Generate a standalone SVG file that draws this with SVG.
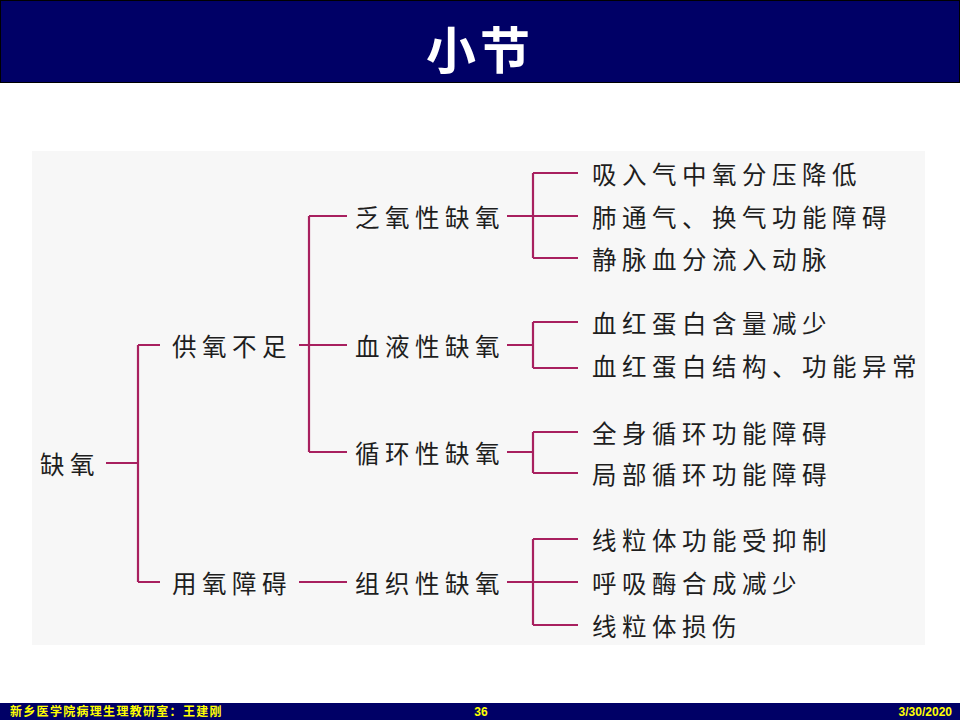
<svg xmlns="http://www.w3.org/2000/svg" width="960" height="720" viewBox="0 0 960 720">
<style>
.t{font-family:"Noto Sans CJK SC","Noto Sans",sans-serif;font-size:24.5px;letter-spacing:5.5px;fill:#1e1e1e;dominant-baseline:central}
.c{fill:none;stroke:#a8205f;stroke-width:2.2}
.f{font-family:"Liberation Sans","Noto Sans CJK SC",sans-serif;font-size:12px;font-weight:bold;fill:#ffff00}
</style>
<rect x="0" y="0" width="960" height="720" fill="#ffffff"/>
<g id="title">
<rect x="0.5" y="0.5" width="959" height="82" fill="#000066" stroke="#000000" stroke-width="1"/>
<text x="480" y="47" text-anchor="middle" font-family="Noto Sans CJK SC, sans-serif" font-size="50" font-weight="bold" letter-spacing="4" fill="#ffffff" dominant-baseline="central">小节</text>
</g>
<rect id="panel" x="32" y="151" width="893" height="494" fill="#f7f7f7"/>
<g id="connectors" class="c">
<path d="M106 463H138M138 345V582M138 345H160M138 582H160"/>
<path d="M299 345H347M309 216V452M309 216H347M309 452H347"/>
<path d="M299 582H347"/>
<path d="M507 216H533M533 173V258M533 173H578M533 216H578M533 258H578"/>
<path d="M507 345H533M533 322V368M533 322H578M533 368H578"/>
<path d="M507 452H533M533 432V473M533 432H578M533 473H578"/>
<path d="M507 582H533M533 539V625M533 539H578M533 582H578M533 625H578"/>
</g>
<g id="n-root"><text class="t" x="40" y="463">缺氧</text></g>
<g id="n-supply"><text class="t" x="172" y="345">供氧不足</text></g>
<g id="n-use"><text class="t" x="172" y="582">用氧障碍</text></g>
<g id="n-hypotonic"><text class="t" x="355" y="216">乏氧性缺氧</text></g>
<g id="n-hemic"><text class="t" x="355" y="345">血液性缺氧</text></g>
<g id="n-circulatory"><text class="t" x="355" y="452">循环性缺氧</text></g>
<g id="n-histogenous"><text class="t" x="355" y="582">组织性缺氧</text></g>
<g id="l1"><text class="t" x="592" y="173">吸入气中氧分压降低</text></g>
<g id="l2"><text class="t" x="592" y="216">肺通气、换气功能障碍</text></g>
<g id="l3"><text class="t" x="592" y="258">静脉血分流入动脉</text></g>
<g id="l4"><text class="t" x="592" y="322">血红蛋白含量减少</text></g>
<g id="l5"><text class="t" x="592" y="365">血红蛋白结构、功能异常</text></g>
<g id="l6"><text class="t" x="592" y="432">全身循环功能障碍</text></g>
<g id="l7"><text class="t" x="592" y="473">局部循环功能障碍</text></g>
<g id="l8"><text class="t" x="592" y="539">线粒体功能受抑制</text></g>
<g id="l9"><text class="t" x="592" y="582">呼吸酶合成减少</text></g>
<g id="l10"><text class="t" x="592" y="625">线粒体损伤</text></g>
<g id="footer">
<rect x="0" y="703" width="960" height="17" fill="#000066"/>
<text class="f" x="10" y="716" letter-spacing="1.3">新乡医学院病理生理教研室：王建刚</text>
<text class="f" x="481" y="716" text-anchor="middle">36</text>
<text class="f" x="952" y="716" text-anchor="end">3/30/2020</text>
</g>
</svg>
